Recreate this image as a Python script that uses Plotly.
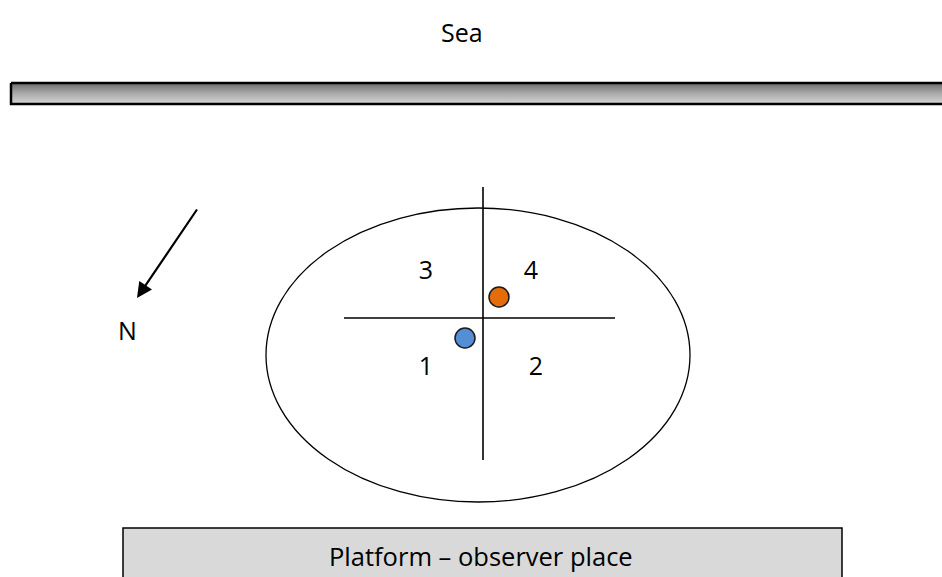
import plotly.graph_objects as go

# ── scene data (pixel coordinates of the diagram) ──────────────────────
W, H = 942, 577
FONT = "Open Sans"

sea_label = "Sea"
sea_xy = (462, 32)

bar_x = [11, 950, 950, 11, 11]
bar_y = [83, 83, 104, 104, 83]

ellipse_box = (266, 208, 690, 502)  # x0, y0, x1, y1

cross_v = ([483, 483], [187, 460])
cross_h = ([344, 615], [318, 318])

quad_labels = ["3", "4", "1", "2"]
quad_x = [426, 531, 426, 536]
quad_y = [273, 273, 369, 369]

dot_x = [499, 465]
dot_y = [297, 338]
dot_colors = ["#e46c0a", "#558ed5"]

arrow_tail = (198, 208)
arrow_head = (137, 298)
north_label = "N"
north_xy = (127, 330)

platform_box = (123, 528, 842, 590)
platform_label = "Platform \u2013 observer place"
platform_xy = (481, 556)

# ── figure ─────────────────────────────────────────────────────────────
fig = go.Figure()

# sea wall: gradient bar
fig.add_trace(
    go.Scatter(
        x=bar_x,
        y=bar_y,
        mode="lines",
        fill="toself",
        fillgradient={
            "type": "vertical",
            "colorscale": [[0, "#d4d4d4"], [0.5, "#ababab"], [1, "#6c6c6c"]],
        },
        line={"color": "black", "width": 2.5},
        hoverinfo="skip",
        showlegend=False,
    )
)

# cross
for xs, ys in (cross_v, cross_h):
    fig.add_trace(
        go.Scatter(
            x=xs, y=ys, mode="lines",
            line={"color": "black", "width": 1.6},
            hoverinfo="skip", showlegend=False,
        )
    )

# quadrant numbers
fig.add_trace(
    go.Scatter(
        x=quad_x, y=quad_y, mode="text", text=quad_labels,
        textfont={"family": FONT, "size": 25, "color": "black"},
        hoverinfo="skip", showlegend=False,
    )
)

# observed points
fig.add_trace(
    go.Scatter(
        x=dot_x, y=dot_y, mode="markers",
        marker={"size": 20, "color": dot_colors,
                "line": {"color": "#1a1a1a", "width": 1.5}},
        hoverinfo="skip", showlegend=False,
    )
)

shapes = [
    dict(type="circle", xref="x", yref="y",
         x0=ellipse_box[0], y0=ellipse_box[1], x1=ellipse_box[2], y1=ellipse_box[3],
         line={"color": "black", "width": 1.3}, layer="below"),
    dict(type="rect", xref="x", yref="y",
         x0=platform_box[0], y0=platform_box[1], x1=platform_box[2], y1=platform_box[3],
         fillcolor="#d9d9d9", line={"color": "black", "width": 1.5}, layer="below"),
]

annotations = [
    dict(x=sea_xy[0], y=sea_xy[1], xref="x", yref="y", text=sea_label,
         showarrow=False, font={"family": FONT, "size": 25, "color": "black"}),
    dict(x=arrow_head[0], y=arrow_head[1], ax=arrow_tail[0], ay=arrow_tail[1],
         xref="x", yref="y", axref="x", ayref="y", text="",
         showarrow=True, arrowhead=2, arrowsize=1.4, arrowwidth=2.2,
         arrowcolor="black", standoff=0),
    dict(x=north_xy[0], y=north_xy[1], xref="x", yref="y", text=north_label,
         showarrow=False, font={"family": FONT, "size": 25, "color": "black"}),
    dict(x=platform_xy[0], y=platform_xy[1], xref="x", yref="y", text=platform_label,
         showarrow=False, font={"family": FONT, "size": 25.5, "color": "black"}),
]

fig.update_layout(
    width=W,
    height=H,
    margin={"l": 0, "r": 0, "t": 0, "b": 0},
    paper_bgcolor="white",
    plot_bgcolor="white",
    shapes=shapes,
    annotations=annotations,
    hovermode=False,
    xaxis={"range": [0, W], "visible": False, "fixedrange": True},
    yaxis={"range": [H, 0], "visible": False, "fixedrange": True},
)

fig.write_html(
    "out.html",
    config={"displayModeBar": False, "staticPlot": True},
    post_script="document.body.style.margin='0';document.body.style.overflow='hidden';",
)
